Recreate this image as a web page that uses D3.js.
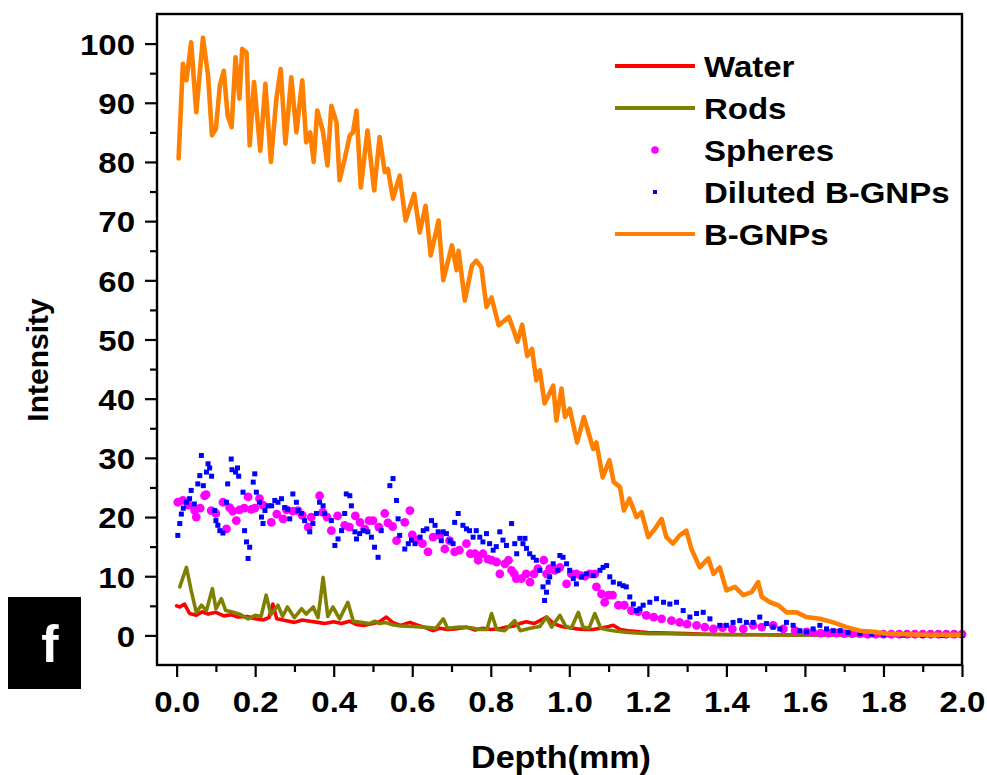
<!DOCTYPE html>
<html>
<head>
<meta charset="utf-8">
<script src="https://cdn.jsdelivr.net/npm/d3@7"></script>
<style>
  html, body { margin: 0; padding: 0; background: #fff; }
  svg { display: block; }
  text { font-family: "Liberation Sans", Arial, Helvetica, sans-serif; font-weight: bold; fill: #000; }
</style>
</head>
<body>
<svg id="chart" width="987" height="775"></svg>
<script>
// Depth (mm) vs intensity profiles, [depth, intensity]
const water = [[0.0,5.0],[0.008,4.8],[0.02,5.3],[0.033,3.7],[0.05,3.4],[0.065,4.0],[0.08,3.6],[0.1,3.9],[0.12,3.3],[0.14,3.5],[0.156,3.1],[0.18,3.2],[0.2,2.8],[0.22,2.6],[0.235,3.0],[0.245,5.3],[0.255,2.8],[0.27,2.6],[0.3,2.2],[0.32,2.6],[0.34,2.4],[0.36,2.2],[0.377,2.0],[0.4,2.3],[0.42,2.0],[0.44,2.4],[0.46,1.8],[0.479,1.7],[0.5,2.0],[0.517,2.3],[0.534,3.1],[0.55,2.2],[0.57,1.7],[0.594,2.2],[0.61,1.8],[0.63,1.4],[0.653,0.8],[0.67,1.2],[0.69,1.0],[0.71,1.1],[0.738,1.4],[0.76,0.9],[0.78,1.2],[0.8,1.0],[0.82,1.1],[0.84,1.4],[0.86,1.6],[0.874,2.0],[0.89,2.3],[0.91,2.0],[0.925,2.5],[0.942,3.1],[0.96,2.0],[0.98,1.5],[1.0,1.3],[1.02,1.1],[1.04,1.0],[1.06,1.0],[1.08,1.2],[1.1,1.5],[1.112,1.7],[1.13,1.0],[1.15,0.8],[1.18,0.6],[1.2,0.5],[1.25,0.4],[1.3,0.3],[1.35,0.2],[1.4,0.15],[1.5,0.1],[1.6,0.05],[1.7,0.05],[1.8,0],[1.9,0],[2.0,0]];

const rods = [[0.008,8.2],[0.025,11.5],[0.037,7.6],[0.05,3.9],[0.063,5.1],[0.076,4.2],[0.091,7.9],[0.1,4.5],[0.114,6.2],[0.125,4.2],[0.14,4.0],[0.16,3.6],[0.182,2.8],[0.2,3.4],[0.215,3.2],[0.228,6.8],[0.24,3.5],[0.258,5.1],[0.27,3.2],[0.282,4.8],[0.3,3.0],[0.318,4.5],[0.33,3.6],[0.348,4.8],[0.36,3.0],[0.373,9.8],[0.385,3.2],[0.398,4.8],[0.415,2.8],[0.436,5.6],[0.45,2.4],[0.47,2.2],[0.49,2.0],[0.505,2.4],[0.517,2.0],[0.53,2.2],[0.55,1.8],[0.57,1.6],[0.6,1.5],[0.63,1.4],[0.66,1.2],[0.679,2.8],[0.69,1.2],[0.721,1.4],[0.75,1.3],[0.77,1.0],[0.79,1.0],[0.802,3.7],[0.815,1.0],[0.835,0.8],[0.861,2.5],[0.875,0.8],[0.9,1.2],[0.925,1.5],[0.942,3.1],[0.955,1.4],[0.976,3.4],[0.99,1.6],[1.005,1.2],[1.023,3.9],[1.035,1.4],[1.05,1.2],[1.065,3.7],[1.08,1.2],[1.1,0.9],[1.12,0.7],[1.15,0.5],[1.2,0.3],[1.25,0.3],[1.3,0.2],[1.4,0.1],[1.5,0.1],[1.6,0.05],[1.8,0],[2.0,0]];

const spheres = [[0.003,22.5],[0.016,22.8],[0.03,22],[0.046,21.1],[0.05,20],[0.06,21.5],[0.071,23.6],[0.075,23.8],[0.088,21.1],[0.1,20.6],[0.118,22.5],[0.127,18],[0.135,21.6],[0.143,21],[0.152,19.4],[0.16,21.2],[0.172,21.5],[0.182,23.4],[0.19,21.3],[0.199,21.5],[0.211,23.1],[0.22,22],[0.241,19.1],[0.255,20.5],[0.271,19.7],[0.28,21.2],[0.296,21],[0.309,21.1],[0.32,20.3],[0.335,18.3],[0.343,20.0],[0.364,23.6],[0.372,20.8],[0.383,20.0],[0.394,17.7],[0.41,20.2],[0.428,18.6],[0.44,18.3],[0.455,20.2],[0.467,19.1],[0.479,18],[0.49,19.4],[0.5,19.4],[0.515,18.3],[0.53,20.6],[0.538,19.0],[0.55,18.4],[0.56,16],[0.581,19.1],[0.594,21.1],[0.6,17.0],[0.612,16.1],[0.626,15.5],[0.64,14.1],[0.653,16.6],[0.67,16.9],[0.683,14.6],[0.695,16.0],[0.708,14.1],[0.72,14.4],[0.738,15.5],[0.748,13.8],[0.76,13.8],[0.768,12.7],[0.78,13.8],[0.793,12.9],[0.802,12.7],[0.815,12.4],[0.823,10.4],[0.836,12.1],[0.845,12.7],[0.853,11.0],[0.86,10.4],[0.865,9.6],[0.878,9.6],[0.89,10.4],[0.9,9.0],[0.91,10.4],[0.92,11.3],[0.935,12.7],[0.942,10.4],[0.95,11.3],[0.963,11.0],[0.976,11.5],[0.993,8.7],[1.005,10.4],[1.018,10.4],[1.03,10.1],[1.04,10.0],[1.052,10.4],[1.065,10.4],[1.069,8.2],[1.082,7.0],[1.09,5.6],[1.1,6.8],[1.11,6.8],[1.125,5.1],[1.14,5.1],[1.158,4.2],[1.175,4.0],[1.196,3.4],[1.215,3.1],[1.235,2.8],[1.26,2.5],[1.281,2.2],[1.3,1.9],[1.324,1.7],[1.345,1.4],[1.367,1.1],[1.39,1.3],[1.415,1.1],[1.443,1.1],[1.468,1.7],[1.49,1.4],[1.519,1.7],[1.545,1.1],[1.575,0.8],[1.604,0.6],[1.62,0.5],[1.64,0.4],[1.66,0.4],[1.68,0.4],[1.7,0.3],[1.72,0.3],[1.74,0.3],[1.76,0.2],[1.78,0.2],[1.8,0.2],[1.82,0.2],[1.84,0.2],[1.86,0.2],[1.88,0.2],[1.9,0.2],[1.92,0.2],[1.94,0.2],[1.96,0.2],[1.98,0.2],[2.0,0.2]];

const diluted = [[0.003,16.9],[0.008,18.9],[0.012,20.5],[0.017,21.5],[0.025,22.5],[0.033,23.1],[0.037,24.5],[0.045,22.2],[0.054,25.6],[0.059,27],[0.063,30.4],[0.068,25.3],[0.076,27.6],[0.08,29],[0.084,28.3],[0.089,26.9],[0.097,21.1],[0.10,19.4],[0.105,18.6],[0.11,17.7],[0.118,17.3],[0.127,22.5],[0.13,25.6],[0.139,29.8],[0.141,28],[0.15,27.6],[0.155,28.3],[0.158,26.9],[0.169,24.2],[0.173,17.7],[0.178,15.8],[0.182,13],[0.186,14.9],[0.195,25.9],[0.199,27.3],[0.203,24.2],[0.211,22.5],[0.216,20],[0.22,18.9],[0.225,21.1],[0.233,21.9],[0.242,21.9],[0.25,22.8],[0.258,22.5],[0.267,23.1],[0.275,21.6],[0.283,21.3],[0.288,19.7],[0.296,23.9],[0.305,22.5],[0.309,21.1],[0.318,20.6],[0.326,19.4],[0.339,17.5],[0.347,18.9],[0.356,20.6],[0.364,22.5],[0.373,21.9],[0.377,20.6],[0.394,19.4],[0.403,15.2],[0.411,16.3],[0.42,17.7],[0.428,20.6],[0.432,23.9],[0.441,23.6],[0.445,21.9],[0.454,17.5],[0.458,16.3],[0.466,17.2],[0.475,17.7],[0.487,17.5],[0.496,16.6],[0.504,14.9],[0.513,13.2],[0.521,17.7],[0.543,25.3],[0.551,26.5],[0.56,22.8],[0.564,19.7],[0.568,16.9],[0.581,14.6],[0.59,15.5],[0.598,16.1],[0.607,15.5],[0.62,16.6],[0.628,17.7],[0.637,18.0],[0.649,19.4],[0.658,18.6],[0.666,17.5],[0.674,16],[0.679,17.5],[0.687,17.2],[0.696,16.0],[0.704,15.5],[0.708,19.1],[0.717,20.6],[0.729,18.6],[0.738,18.0],[0.746,17.7],[0.755,16.6],[0.763,17.7],[0.772,16.6],[0.78,15.8],[0.789,17.2],[0.797,15.5],[0.806,14.4],[0.814,15.0],[0.823,17.5],[0.831,16.1],[0.84,15.2],[0.853,18.9],[0.861,15.5],[0.866,13.8],[0.874,16.4],[0.882,15.5],[0.887,16.4],[0.891,14.7],[0.899,13.8],[0.908,13.2],[0.916,12.7],[0.925,11],[0.933,8.2],[0.937,5.9],[0.942,7.3],[0.946,9.0],[0.95,9.9],[0.959,12.1],[0.971,11.0],[0.976,13.5],[0.984,13.2],[0.993,12.1],[1.001,11.0],[1.01,9.6],[1.018,8.7],[1.031,9.9],[1.044,10.4],[1.061,10.1],[1.078,11.0],[1.086,11.5],[1.095,11.8],[1.103,9.9],[1.112,9.0],[1.128,8.7],[1.137,8.4],[1.145,8.2],[1.154,6.5],[1.163,5.3],[1.171,4.2],[1.18,4.5],[1.188,5.1],[1.205,5.6],[1.222,6.2],[1.24,5.6],[1.256,5.3],[1.273,5.6],[1.29,4.2],[1.307,3.1],[1.324,3.7],[1.341,3.9],[1.358,2.8],[1.383,1.7],[1.4,1.7],[1.417,2.2],[1.434,2.5],[1.451,2.2],[1.468,2.2],[1.485,3.1],[1.502,2.0],[1.519,1.4],[1.536,1.1],[1.553,2.2],[1.57,1.7],[1.587,0.8],[1.604,0.6],[1.621,1.1],[1.638,1.7],[1.655,1.1],[1.672,0.8],[1.69,0.8],[1.71,0.5],[1.74,0.3],[1.77,0.2],[1.8,0.1],[1.85,0.05],[1.9,0],[1.95,0],[2.0,0]];

const bgnps = [[0.005,80.6],[0.016,96.6],[0.025,93.8],[0.037,100.2],[0.05,88.4],[0.067,101],[0.08,94.6],[0.09,84.5],[0.10,85.6],[0.11,92.9],[0.12,95.4],[0.13,87.8],[0.14,85.9],[0.15,97.7],[0.16,90.7],[0.167,99.1],[0.178,98.5],[0.186,82.8],[0.197,93.5],[0.213,81.9],[0.226,93.2],[0.24,80],[0.254,90.7],[0.265,95.7],[0.277,83.1],[0.292,94.3],[0.305,85],[0.32,93.8],[0.33,83.3],[0.34,85],[0.349,80],[0.358,88.7],[0.373,85],[0.384,79.4],[0.394,89.5],[0.407,86.7],[0.415,76.9],[0.428,80.5],[0.441,84.5],[0.449,85],[0.458,88.7],[0.469,75.7],[0.486,85.3],[0.503,75.2],[0.517,84.2],[0.53,78.3],[0.538,78.8],[0.551,73.8],[0.568,77.7],[0.583,70.1],[0.605,74.6],[0.619,68.1],[0.634,72.6],[0.647,64.2],[0.667,70.1],[0.679,60],[0.701,65.9],[0.713,61.7],[0.718,65],[0.734,56.6],[0.752,62.5],[0.763,63.3],[0.776,62.2],[0.789,55.5],[0.802,57.1],[0.82,52.4],[0.846,53.8],[0.857,51.8],[0.868,49.6],[0.88,52.5],[0.893,47.2],[0.905,48.4],[0.916,43.1],[0.925,44.8],[0.937,39.2],[0.959,42.2],[0.967,36.3],[0.98,41.7],[0.989,36.9],[1.001,38.3],[1.02,32.6],[1.037,36.9],[1.061,31.5],[1.069,32.6],[1.085,26.7],[1.102,29.6],[1.113,25.9],[1.129,25.1],[1.139,21.1],[1.153,23.1],[1.171,20],[1.184,20.8],[1.201,16.6],[1.218,18],[1.235,19.7],[1.247,16.6],[1.264,15.5],[1.281,16.9],[1.298,17.7],[1.311,14.6],[1.332,11.5],[1.354,13],[1.367,10.4],[1.383,11.5],[1.40,7.6],[1.422,8.2],[1.443,6.8],[1.464,7.3],[1.481,9],[1.49,6.5],[1.511,5.6],[1.532,5.1],[1.553,3.9],[1.579,3.9],[1.604,3.1],[1.638,2.8],[1.672,2.2],[1.706,1.4],[1.74,0.8],[1.774,0.6],[1.808,0.3],[1.85,0.2],[1.9,0.1],[1.95,0.1],[2.0,0.1]];

const xTicks = [0.0, 0.2, 0.4, 0.6, 0.8, 1.0, 1.2, 1.4, 1.6, 1.8, 2.0];
const yTicks = [0, 10, 20, 30, 40, 50, 60, 70, 80, 90, 100];
const legendNames = ["Water", "Rods", "Spheres", "Diluted B-GNPs", "B-GNPs"];

const svg = d3.select("#chart");
const L = 157, R = 962, T = 14, B = 665;
const WIDE = "scale(1.1,1)";   // slightly widened bold lettering

const x = d3.scaleLinear().domain([-0.05, 2.0]).range([L, R]);
const y = d3.scaleLinear().domain([-5, 105]).range([B, T]);

const plot = svg.append("g");
const line = d3.line().x(d => x(d[0])).y(d => y(d[1]));

// Water and Rods as lines
plot.append("path").datum(water).attr("d", line)
  .attr("fill", "none").attr("stroke", "#ff0000").attr("stroke-width", 3.6)
  .attr("stroke-linejoin", "round").attr("stroke-linecap", "round");
plot.append("path").datum(rods).attr("d", line)
  .attr("fill", "none").attr("stroke", "#808000").attr("stroke-width", 3.6)
  .attr("stroke-linejoin", "round").attr("stroke-linecap", "round");

// Spheres as round dots
plot.selectAll("circle.sph").data(spheres).join("circle")
  .attr("class", "sph")
  .attr("cx", d => x(d[0])).attr("cy", d => y(d[1])).attr("r", 4.4)
  .attr("fill", "#ff00ff");

// Diluted B-GNPs as small squares
const sq = 5;
plot.selectAll("rect.dil").data(diluted).join("rect")
  .attr("class", "dil")
  .attr("x", d => x(d[0]) - sq / 2).attr("y", d => y(d[1]) - sq / 2)
  .attr("width", sq).attr("height", sq)
  .attr("fill", "#0000ff");

// B-GNPs line
plot.append("path").datum(bgnps).attr("d", line)
  .attr("fill", "none").attr("stroke", "#ff8000").attr("stroke-width", 4.6)
  .attr("stroke-linejoin", "round").attr("stroke-linecap", "round");

// Axes
const xMinor = d3.range(0.1, 2.0, 0.2);
const yMinor = d3.range(5, 100, 10);

const xAxis = svg.append("g").attr("transform", `translate(0,${B})`)
  .call(d3.axisBottom(x).tickValues(xTicks).tickFormat(d3.format(".1f")).tickSize(12).tickPadding(14));
const xAxisMinor = svg.append("g").attr("transform", `translate(0,${B})`)
  .call(d3.axisBottom(x).tickValues(xMinor).tickFormat("").tickSize(7));
const yAxis = svg.append("g").attr("transform", `translate(${L},0)`)
  .call(d3.axisLeft(y).tickValues(yTicks).tickFormat(d3.format("d")).tickSize(12).tickPadding(8));
const yAxisMinor = svg.append("g").attr("transform", `translate(${L},0)`)
  .call(d3.axisLeft(y).tickValues(yMinor).tickFormat("").tickSize(7));

[xAxis, xAxisMinor, yAxis, yAxisMinor].forEach(g => {
  g.select(".domain").remove();
  g.selectAll(".tick line").attr("stroke", "#000").attr("stroke-width", 2.2);
  g.selectAll(".tick text").attr("font-size", 30).attr("font-family", "'Liberation Sans', Arial, sans-serif")
    .attr("font-weight", "bold").attr("fill", "#000").attr("transform", WIDE);
});
yAxis.selectAll(".tick text").attr("dy", "0.36em");

// Frame
svg.append("rect").attr("x", L).attr("y", T).attr("width", R - L).attr("height", B - T)
  .attr("fill", "none").attr("stroke", "#000").attr("stroke-width", 2.4);

// Axis titles
svg.append("text").attr("transform", `translate(561,768) ${WIDE}`).attr("text-anchor", "middle")
  .attr("font-size", 31).text("Depth(mm)");
svg.append("text").attr("transform", "translate(48,360) rotate(-90)").attr("text-anchor", "middle")
  .attr("font-size", 30).text("Intensity");

// Legend
const legY = [66, 108, 150, 192, 234];
const leg = svg.append("g");
legendNames.forEach((name, i) => {
  const yy = legY[i];
  if (i === 0 || i === 1 || i === 4) {
    const col = i === 0 ? "#ff0000" : i === 1 ? "#808000" : "#ff8000";
    leg.append("line").attr("x1", 615).attr("x2", 695).attr("y1", yy).attr("y2", yy)
      .attr("stroke", col).attr("stroke-width", 4);
  } else if (i === 2) {
    leg.append("circle").attr("cx", 655).attr("cy", yy).attr("r", 3.8).attr("fill", "#ff00ff");
  } else {
    leg.append("rect").attr("x", 653).attr("y", yy - 2).attr("width", 4).attr("height", 4).attr("fill", "#0000ff");
  }
  leg.append("text").attr("transform", `translate(704,${yy + 11}) ${WIDE}`).attr("font-size", 30).text(name);
});

// Panel label
svg.append("rect").attr("x", 8).attr("y", 597).attr("width", 73).attr("height", 92).attr("fill", "#000");
svg.append("text").attr("x", 50).attr("y", 662).attr("text-anchor", "middle")
  .attr("font-size", 52).style("fill", "#fff").text("f");
</script>
</body>
</html>
